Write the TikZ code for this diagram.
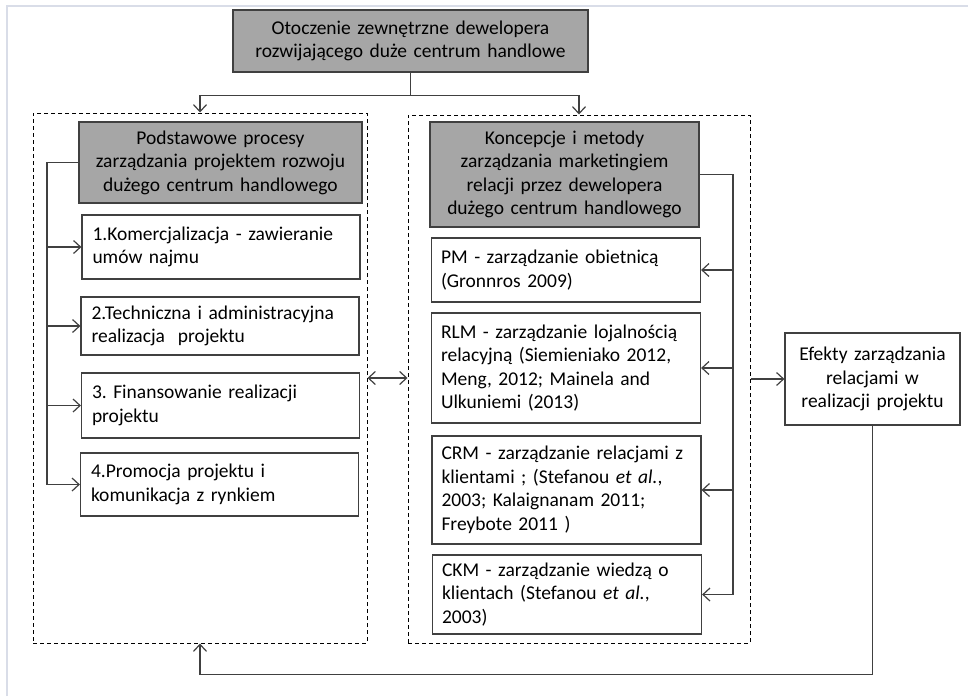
\documentclass[tikz,border=0pt]{standalone}
\usepackage{fontspec}
\setmainfont{Carlito}[WordSpace=0.6]
\usepackage{tikz}
\usetikzlibrary{arrows.meta}
\frenchspacing

\definecolor{linegray}{HTML}{404040}
\definecolor{headgray}{HTML}{A6A6A6}
\definecolor{framegray}{HTML}{D9DDE8}

\tikzset{
  boxfont/.style={font=\fontsize{19.5}{23.5}\selectfont},
  headbox/.style={draw=linegray, line width=1.2pt, fill=headgray, boxfont, align=center, inner xsep=4pt, inner ysep=0pt},
  itembox/.style={draw=linegray, line width=1.2pt, fill=white, boxfont, align=left, inner ysep=0pt},
  leftitem/.style={itembox, inner xsep=10.5pt, text width=257pt},
  rightitem/.style={itembox, inner xsep=9.5pt, text width=250pt},
  dashframe/.style={draw=black, line width=1pt, dash pattern=on 4pt off 3pt, inner sep=0pt},
  conn/.style={draw=linegray, line width=1.2pt}
}

\begin{document}
\begin{tikzpicture}[x=1pt, y=-1pt, >={Straight Barb[length=7pt,width=13pt]}]
            \useasboundingbox (0,0) rectangle (968,696);

            % Define the outer frame (top and left edge only)
            \draw[framegray, line width=1.5pt] (7,696) -- (7,6) -- (968,6);

            % Define the two dashed frames
            \node[dashframe, minimum width=334pt, minimum height=530pt] (lframe) at (200,378) {};
            \node[dashframe, minimum width=342pt, minimum height=528pt] (rframe) at (579,379) {};

            % Define the top box
            \node[headbox, text width=347pt, minimum height=62pt] (otocz) at (410.5,41)
                {Otoczenie zewnętrzne dewelopera\\rozwijającego duże centrum handlowe};

            % Define the left column
            \node[headbox, text width=275pt, minimum height=81pt] (lhead) at (220.5,162.5)
                {Podstawowe procesy\\zarządzania projektem rozwoju\\dużego centrum handlowego};
            \node[leftitem, minimum height=64pt] (k1) at (221,247)
                {1.Komercjalizacja - zawieranie\\umów najmu};
            \node[leftitem, minimum height=58pt] (k2) at (220,326)
                {2.Techniczna i administracyjna\\realizacja\ \ projektu};
            \node[leftitem, minimum height=65pt] (k3) at (220.5,405.5)
                {3. Finansowanie realizacji\\projektu};
            \node[leftitem, minimum height=63pt] (k4) at (219.5,484.5)
                {4.Promocja projektu i\\komunikacja z rynkiem};

            % Define the right column
            \node[headbox, text width=261pt, minimum height=105pt] (rhead) at (564.5,174.5)
                {Koncepcje i metody\\zarządzania marketingiem\\relacji przez dewelopera\\dużego centrum handlowego};
            \node[rightitem, minimum height=64pt] (pm) at (566,270)
                {PM - zarządzanie obietnicą\\(Gronnros 2009)};
            \node[rightitem, minimum height=110pt] (rlm) at (566,368)
                {RLM - zarządzanie lojalnością\\relacyjną (Siemieniako 2012,\\Meng, 2012; Mainela and\\Ulkuniemi (2013)};
            \node[rightitem, minimum height=108pt] (crm) at (566.5,490)
                {\mbox{CRM - zarządzanie relacjami z}\\klientami ; (Stefanou \textit{et al.},\\2003; Kalaignanam 2011;\\Freybote 2011 )};
            \node[rightitem, minimum height=79pt] (ckm) at (567,594.5)
                {CKM - zarządzanie wiedzą o\\klientach (Stefanou \textit{et al.},\\2003)};

            % Define the effects box
            \node[headbox, fill=white, text width=167pt, minimum height=92pt] (efekt) at (872.5,379)
                {Efekty zarządzania\\relacjami w\\realizacji projektu};

            % Bus lines
            \coordinate (lbus) at (47,0);
            \coordinate (rbus) at (733,0);

            % Top box to both frames
            \draw[conn] (otocz.south) -- ++(0,23) coordinate (split);
            \draw[conn,->] (split) -| (lframe.north);
            \draw[conn,->] (split) -| (rframe.north);

            % Left bus to the process boxes
            \draw[conn,->] (lhead.west) -- (lhead.west -| lbus) |- (k4.west);
            \foreach \k in {k1,k2,k3}
                \draw[conn,->] (\k.west -| lbus) -- (\k.west);

            % Right bus to the method boxes
            \draw[conn,->] (rhead.east) -- (rhead.east -| rbus) |- (ckm.east);
            \foreach \k in {pm,rlm,crm}
                \draw[conn,->] (\k.east -| rbus) -- (\k.east);

            % Between frames and to the effects
            \draw[conn,<->] (lframe.east) -- (rframe.west |- lframe.east);
            \draw[conn,->] (rframe.east) -- (efekt.west);

            % Feedback loop
            \draw[conn,->] (efekt.south) -- ++(0,249) -| (lframe.south);

\end{tikzpicture}
\end{document}
